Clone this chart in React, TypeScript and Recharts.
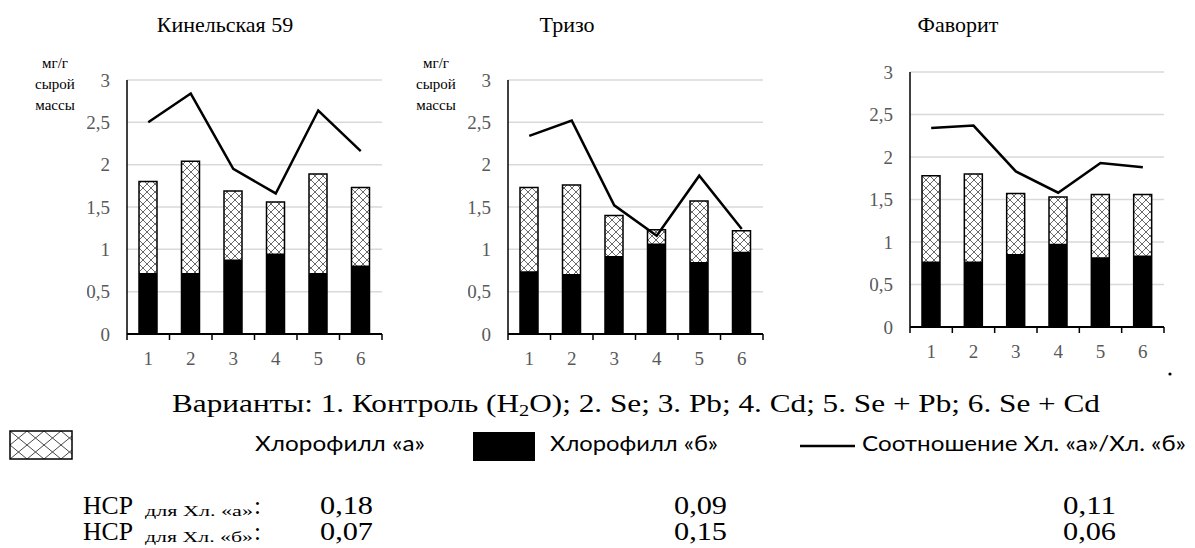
import React from "react";
import { ComposedChart, Bar, Line, XAxis, YAxis, CartesianGrid } from "recharts";

const categories = ["1", "2", "3", "4", "5", "6"];
const yTicks = [0, 0.5, 1, 1.5, 2, 2.5, 3];

// Кинельская 59
const kinelChlA = [1.8, 2.04, 1.69, 1.56, 1.89, 1.73];
const kinelChlB = [0.72, 0.72, 0.88, 0.95, 0.72, 0.81];
const kinelRatio = [2.5, 2.84, 1.95, 1.66, 2.64, 2.16];

// Тризо
const trizoChlA = [1.73, 1.76, 1.4, 1.23, 1.57, 1.22];
const trizoChlB = [0.74, 0.71, 0.92, 1.07, 0.85, 0.97];
const trizoRatio = [2.34, 2.52, 1.52, 1.16, 1.87, 1.24];

// Фаворит
const favChlA = [1.78, 1.8, 1.57, 1.53, 1.56, 1.56];
const favChlB = [0.77, 0.77, 0.86, 0.98, 0.82, 0.84];
const favRatio = [2.34, 2.37, 1.83, 1.58, 1.93, 1.88];

const nsrA = ["0,18", "0,09", "0,11"];
const nsrB = ["0,07", "0,15", "0,06"];
const nsrX = [320, 674, 1063];

const serif = "'Liberation Serif', 'DejaVu Serif', serif";
const sans = "Lato, 'Open Sans', sans-serif";

const buildData = (a: number[], b: number[], r: number[]) =>
  categories.map((c, i) => ({ v: c, a: a[i], b: b[i], r: r[i] }));

const M_TOP = 12;
const Y_W = 40;
const X_H = 40;

const fmt = (v: number) => String(v).replace(".", ",");

type PanelProps = {
  id: string;
  left: number;
  top: number;
  plotW: number;
  plotH: number;
  showUnit: boolean;
  data: { v: string; a: number; b: number; r: number }[];
};

const Panel = ({ id, left, top, plotW, plotH, showUnit, data }: PanelProps) => {
  const band = plotW / categories.length;
  const axisY = M_TOP + plotH;

  const xTick = (props: any) => {
    const { x, payload, index } = props;
    return (
      <g>
        <line x1={x - band / 2} x2={x - band / 2} y1={axisY} y2={axisY + 6} stroke="#000" strokeWidth={1.5} />
        {index === categories.length - 1 && (
          <line x1={x + band / 2} x2={x + band / 2} y1={axisY} y2={axisY + 6} stroke="#000" strokeWidth={1.5} />
        )}
        <text x={x} y={axisY + 24} textAnchor="middle" dominantBaseline="central" fill="#595959" fontSize={19} fontFamily={serif}>
          {payload.value}
        </text>
      </g>
    );
  };

  const yTick = (props: any) => {
    const { y, payload } = props;
    return (
      <text x={Y_W - 17} y={y} textAnchor="end" dominantBaseline="central" fill="#595959" fontSize={19} fontFamily={serif}>
        {fmt(payload.value)}
      </text>
    );
  };

  return (
    <>
      {showUnit && (
        <div style={{ position: "absolute", left: left - 112, top: 53, width: 80, textAlign: "center", fontFamily: serif, fontSize: 15, lineHeight: "21px" }}>
          мг/г
          <br />
          сырой
          <br />
          массы
        </div>
      )}
      <div style={{ position: "absolute", left: left - Y_W, top: top - M_TOP }}>
        <ComposedChart width={Y_W + plotW + 10} height={M_TOP + plotH + X_H} data={data} margin={{ top: M_TOP, right: 10, left: 0, bottom: 0 }}>
          <defs>
            <pattern id={`hatch-${id}`} patternUnits="userSpaceOnUse" width={8} height={8}>
              <rect width={8} height={8} fill="#fff" />
              <path d="M0,0 L8,8 M8,0 L0,8" stroke="#444" strokeWidth={0.8} />
            </pattern>
          </defs>
          <CartesianGrid vertical={false} stroke="#d9d9d9" strokeWidth={1.5} />
          <XAxis xAxisId="a" dataKey="v" height={X_H} axisLine={{ stroke: "#000", strokeWidth: 2 }} tickLine={false} tick={xTick} interval={0} />
          <XAxis xAxisId="b" dataKey="v" hide />
          <YAxis domain={[0, 3]} ticks={yTicks} width={Y_W} axisLine={{ stroke: "#000", strokeWidth: 1.5 }} tickLine={false} tick={yTick} interval={0} />
          <Bar xAxisId="a" dataKey="a" barSize={18} fill={`url(#hatch-${id})`} stroke="#000" strokeWidth={1.5} isAnimationActive={false} />
          <Bar xAxisId="b" dataKey="b" barSize={18} fill="#000" isAnimationActive={false} />
          <Line xAxisId="a" dataKey="r" type="linear" stroke="#000" strokeWidth={2.5} dot={false} isAnimationActive={false} />
        </ComposedChart>
      </div>
    </>
  );
};

const App = () => {
  return (
    <div style={{ position: "absolute", left: 0, top: 0, width: 1195, height: 548, background: "#fff", overflow: "hidden" }}>
      <Panel id="k" left={127} top={80} plotW={255} plotH={254} showUnit data={buildData(kinelChlA, kinelChlB, kinelRatio)} />
      <Panel id="t" left={508} top={80} plotW={255} plotH={254} showUnit data={buildData(trizoChlA, trizoChlB, trizoRatio)} />
      <Panel id="f" left={910} top={72} plotW={254} plotH={255} showUnit={false} data={buildData(favChlA, favChlB, favRatio)} />

      <svg style={{ position: "absolute", left: 0, top: 0, pointerEvents: "none" }} width={1195} height={548}>
        <defs>
          <pattern id="hatch-legend" patternUnits="userSpaceOnUse" x={10} y={431} width={17} height={14}>
            <rect width={17} height={14} fill="#fff" />
            <path d="M0,0 L17,14 M17,0 L0,14" stroke="#333" strokeWidth={0.9} />
          </pattern>
        </defs>

        <g fontFamily={serif} fill="#000" fontSize={22}>
          <text x={225} y={32} textAnchor="middle">Кинельская 59</text>
          <text x={567} y={32} textAnchor="middle">Тризо</text>
          <text x={958} y={32} textAnchor="middle">Фаворит</text>
        </g>

        <circle cx={1170} cy={374} r={1.6} fill="#000" />

        <text x={172} y={412} fontFamily={serif} fontSize={26} textLength={928} lengthAdjust="spacingAndGlyphs">
          Варианты: 1. Контроль (H<tspan fontSize={17} dy={4}>2</tspan>
          <tspan dy={-4}>O); 2. Se; 3. Pb; 4. Cd; 5. Se + Pb; 6. Se + Cd</tspan>
        </text>

        <rect x={10} y={431} width={62} height={28} fill="url(#hatch-legend)" stroke="#000" strokeWidth={1.5} />
        <rect x={473} y={432} width={62} height={29} fill="#000" />
        <line x1={800} x2={855} y1={446} y2={446} stroke="#000" strokeWidth={2.5} />

        <g fontFamily={sans} fontSize={22} fill="#000">
          <text x={255} y={451} textLength={170} lengthAdjust="spacingAndGlyphs">Хлорофилл «а»</text>
          <text x={550} y={451} textLength={168} lengthAdjust="spacingAndGlyphs">Хлорофилл «б»</text>
          <text x={862} y={451} textLength={324} lengthAdjust="spacingAndGlyphs">Соотношение Хл. «а»/Хл. «б»</text>
        </g>

        {[0, 1].map((row) => {
          const base = row === 0 ? 514 : 540;
          return (
            <g key={row} fontFamily={serif} fill="#000">
              <text x={83} y={base} fontSize={25} textLength={50} lengthAdjust="spacingAndGlyphs">НСР</text>
              <text x={145} y={base + 2} fontSize={14} textLength={108} lengthAdjust="spacingAndGlyphs">
                {row === 0 ? "для Хл. «а»" : "для Хл. «б»"}
              </text>
              <text x={254} y={base} fontSize={25}>:</text>
              {(row === 0 ? nsrA : nsrB).map((v, i) => (
                <text key={i} x={nsrX[i]} y={base} fontSize={25} textLength={53} lengthAdjust="spacingAndGlyphs">
                  {v}
                </text>
              ))}
            </g>
          );
        })}
      </svg>
    </div>
  );
};

export default App;
